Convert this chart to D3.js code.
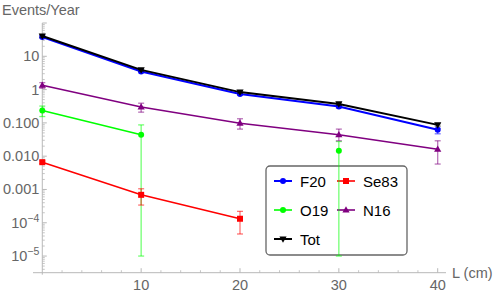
<!DOCTYPE html>
<html>
<head>
<meta charset="utf-8">
<script src="https://cdn.jsdelivr.net/npm/d3@7.9.0/dist/d3.min.js"></script>
<style>
  html, body { margin: 0; padding: 0; background: #fff; }
  svg { display: block; font-family: "Liberation Sans", Arial, sans-serif; }
</style>
</head>
<body>
<div id="chart"></div>
<script>
// --- data ---
const lengths = [0, 10, 20, 30, 40];

// values per length (null = no point)
const totValues  = [40.7, 3.9, 0.84, 0.37, 0.087];
const totLow     = [37, 3.6, 0.78, 0.34, 0.080];
const totHigh    = [44, 4.2, 0.90, 0.40, 0.094];

const f20Values  = [38, 3.5, 0.74, 0.31, 0.062];
const f20Low     = [35, 3.2, 0.68, 0.28, 0.047];
const f20High    = [41, 3.8, 0.80, 0.34, 0.069];

const n16Values  = [1.35, 0.30, 0.098, 0.044, 0.0162];
const n16Low     = [1.10, 0.21, 0.065, 0.029, 0.0058];
const n16High    = [1.62, 0.39, 0.133, 0.065, 0.029];

const o19Values  = [0.235, 0.044, null, 0.0145, null];
const o19Low     = [0.155, 1e-5, null, 1e-5, null];
const o19High    = [0.32, 0.087, null, 0.0276, null];

const se83Values = [0.0066, 6.9e-4, 1.32e-4, null, null];
const se83Low    = [0.0060, 3.4e-4, 4.6e-5, null, null];
const se83High   = [0.0072, 1.05e-3, 2.2e-4, null, null];

const yTickValues = [10, 1, 0.1, 0.01, 0.001, 1e-4, 1e-5];
const yTickLabels = ['10', '1', '0.100', '0.010', '0.001', '10^-4', '10^-5'];
const xTickValues = [10, 20, 30, 40];

const series = [
  { name: 'F20',  color: '#0000ff', marker: 'circle',   width: 2,   vals: f20Values,  lo: f20Low,  hi: f20High },
  { name: 'Se83', color: '#ff0000', marker: 'square',   width: 1.6, vals: se83Values, lo: se83Low, hi: se83High },
  { name: 'O19',  color: '#00ff00', marker: 'circle',   width: 1.6, vals: o19Values,  lo: o19Low,  hi: o19High },
  { name: 'N16',  color: '#800080', marker: 'triUp',    width: 1.6, vals: n16Values,  lo: n16Low,  hi: n16High },
  { name: 'Tot',  color: '#000000', marker: 'triDown',  width: 2,   vals: totValues,  lo: totLow,  hi: totHigh },
];

// --- layout ---
const width = 498;
const height = 295;

const svg = d3.select('#chart').append('svg')
  .attr('width', width)
  .attr('height', height);

const xScale = d3.scaleLinear().domain([-0.94, 40.84]).range([33, 446]);
const yScale = d3.scaleLog().domain([Math.pow(10, -5.5), 100]).range([272.7, 23]);

const axisColor = '#b8b8b8';
const labelColor = '#666';

// axes lines
svg.append('line')
  .attr('x1', xScale.range()[0]).attr('x2', xScale.range()[1])
  .attr('y1', yScale.range()[0]).attr('y2', yScale.range()[0])
  .attr('stroke', axisColor).attr('stroke-width', 1);
svg.append('line')
  .attr('x1', xScale(0)).attr('x2', xScale(0))
  .attr('y1', yScale.range()[1]).attr('y2', yScale.range()[0] + 2)
  .attr('stroke', axisColor).attr('stroke-width', 1);

// y ticks (major + minor)
const yMinor = [];
for (let k = -6; k <= 1; k++) {
  for (let m = 2; m <= 9; m++) {
    const v = m * Math.pow(10, k);
    if (v >= yScale.domain()[0] && v <= yScale.domain()[1]) yMinor.push(v);
  }
}
svg.append('g').selectAll('line').data(yMinor).join('line')
  .attr('x1', xScale(0)).attr('x2', xScale(0) + 2.5)
  .attr('y1', (d) => yScale(d)).attr('y2', (d) => yScale(d))
  .attr('stroke', axisColor).attr('stroke-width', 0.8);
svg.append('g').selectAll('line').data(yTickValues.concat([100])).join('line')
  .attr('x1', xScale(0)).attr('x2', xScale(0) + 4.5)
  .attr('y1', (d) => yScale(d)).attr('y2', (d) => yScale(d))
  .attr('stroke', axisColor).attr('stroke-width', 1);

const yLabels = svg.append('g').selectAll('text').data(yTickValues).join('text')
  .attr('x', xScale(0) - 3)
  .attr('y', (d) => yScale(d) + 5)
  .attr('text-anchor', 'end')
  .attr('fill', labelColor)
  .attr('font-size', 14.5);
yLabels.each(function (d, i) {
  const lab = yTickLabels[i];
  const t = d3.select(this);
  if (lab.includes('^')) {
    const [base, exp] = lab.split('^');
    t.append('tspan').text(base);
    t.append('tspan').attr('dy', -6).attr('font-size', 10.5).text(exp.replace('-', '\u2212'));
  } else {
    t.text(lab);
  }
});

// x ticks
const xMinor = d3.range(2, 41, 2).filter((d) => d % 10 !== 0);
svg.append('g').selectAll('line').data(xMinor).join('line')
  .attr('x1', (d) => xScale(d)).attr('x2', (d) => xScale(d))
  .attr('y1', yScale.range()[0]).attr('y2', yScale.range()[0] - 2.5)
  .attr('stroke', axisColor).attr('stroke-width', 0.8);
svg.append('g').selectAll('line').data(xTickValues).join('line')
  .attr('x1', (d) => xScale(d)).attr('x2', (d) => xScale(d))
  .attr('y1', yScale.range()[0]).attr('y2', yScale.range()[0] - 4.5)
  .attr('stroke', axisColor).attr('stroke-width', 1);
svg.append('g').selectAll('text').data(xTickValues).join('text')
  .attr('x', (d) => xScale(d))
  .attr('y', 290)
  .attr('text-anchor', 'middle')
  .attr('fill', labelColor)
  .attr('font-size', 14.5)
  .text((d) => d);

// axis labels
svg.append('text').attr('x', 2).attr('y', 15)
  .attr('fill', labelColor).attr('font-size', 14.5).text('Events/Year');
svg.append('text').attr('x', 452).attr('y', 278)
  .attr('fill', labelColor).attr('font-size', 14.5).text('L (cm)');

// --- markers ---
function drawMarker(g, type, x, y, color) {
  if (type === 'circle') {
    g.append('circle').attr('cx', x).attr('cy', y).attr('r', 3).attr('fill', color);
  } else if (type === 'square') {
    g.append('rect').attr('x', x - 3).attr('y', y - 3).attr('width', 6).attr('height', 6).attr('fill', color);
  } else if (type === 'triUp') {
    g.append('path').attr('d', `M${x},${y - 3.8}L${x + 3.6},${y + 2.6}L${x - 3.6},${y + 2.6}Z`).attr('fill', color);
  } else {
    g.append('path').attr('d', `M${x},${y + 3.8}L${x + 3.6},${y - 2.6}L${x - 3.6},${y - 2.6}Z`).attr('fill', color);
  }
}

// --- legend (drawn first: the data marks sit on top of it) ---
const legend = svg.append('g');
legend.append('rect')
  .attr('x', 266).attr('y', 166)
  .attr('width', 141).attr('height', 89)
  .attr('rx', 4)
  .attr('fill', '#fff')
  .attr('stroke', '#666').attr('stroke-width', 1.3);

const legendCols = [274, 337];
const legendRows = [181, 210, 239];
series.forEach((s, i) => {
  const col = i % 2;
  const row = Math.floor(i / 2);
  const lx = legendCols[col];
  const ly = legendRows[row];
  legend.append('line')
    .attr('x1', lx).attr('x2', lx + 18)
    .attr('y1', ly).attr('y2', ly)
    .attr('stroke', s.color).attr('stroke-width', s.width);
  drawMarker(legend, s.marker, lx + 9, ly, s.color);
  legend.append('text')
    .attr('x', lx + 26).attr('y', ly + 5.5)
    .attr('font-size', 15)
    .attr('fill', '#000')
    .text(s.name);
});

// draw so F20 ends up under Tot like the picture
const drawOrder = ['O19', 'Se83', 'N16', 'F20', 'Tot'];
drawOrder.forEach((name) => {
  const s = series.find((d) => d.name === name);
  const pts = lengths.map((x, i) => ({ x, y: s.vals[i], lo: s.lo[i], hi: s.hi[i] }));
  const g = svg.append('g');

  const line = d3.line()
    .defined((d) => d.y != null)
    .x((d) => xScale(d.x))
    .y((d) => yScale(d.y));
  g.append('path').datum(pts)
    .attr('d', line)
    .attr('fill', 'none')
    .attr('stroke', s.color)
    .attr('stroke-width', s.width);

  // error bars
  pts.filter((d) => d.y != null).forEach((d) => {
    const cx = xScale(d.x);
    const eb = g.append('g').attr('stroke', s.color).attr('stroke-opacity', 0.55).attr('stroke-width', 1.3);
    eb.append('line').attr('x1', cx).attr('x2', cx).attr('y1', yScale(d.lo)).attr('y2', yScale(d.hi));
    eb.append('line').attr('x1', cx - 3).attr('x2', cx + 3).attr('y1', yScale(d.lo)).attr('y2', yScale(d.lo));
    eb.append('line').attr('x1', cx - 3).attr('x2', cx + 3).attr('y1', yScale(d.hi)).attr('y2', yScale(d.hi));
  });

  pts.filter((d) => d.y != null).forEach((d) => {
    drawMarker(g, s.marker, xScale(d.x), yScale(d.y), s.color);
  });
});
</script>
</body>
</html>
